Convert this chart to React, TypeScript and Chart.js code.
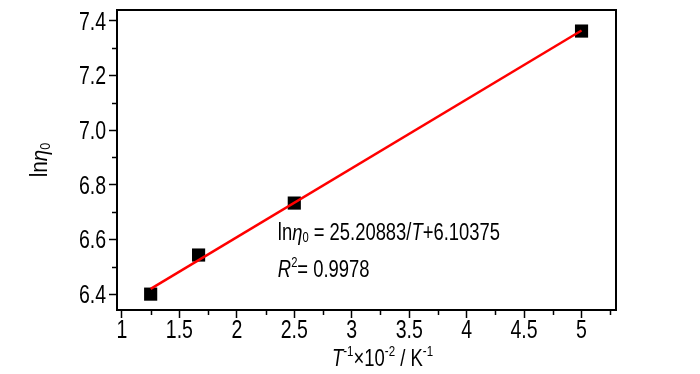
import React, { useEffect, useRef } from "react";
import { Chart, registerables } from "chart.js";

Chart.register(...registerables);

// ---- data ----
const invT = [1.25, 1.667, 2.5, 5.0];
const lnEta = [6.4, 6.543, 6.733, 7.362];
const fitX = [1.25, 5.0];
const fitY = [6.419, 7.364];
const xTicks = [1, 1.5, 2, 2.5, 3, 3.5, 4, 4.5, 5];
const xMinorTicks = [1.25, 1.75, 2.25, 2.75, 3.25, 3.75, 4.25, 4.75, 5.25];
const yTicks = [6.4, 6.6, 6.8, 7.0, 7.2, 7.4];
const yMinorTicks = [6.5, 6.7, 6.9, 7.1, 7.3];
const eqLine1 = [
  { t: "ln" },
  { t: "η", i: true },
  { t: "0", sub: true },
  { t: " = 25.20883/" },
  { t: "T", i: true },
  { t: "+6.10375" },
];
const eqLine2 = [{ t: "R", i: true }, { t: "2", sup: true }, { t: "= 0.9978" }];
const xTitle = [
  { t: "T", i: true },
  { t: "-1", sup: true },
  { t: "×10" },
  { t: "-2", sup: true },
  { t: " / K" },
  { t: "-1", sup: true },
];
const yTitle = [{ t: "ln" }, { t: "η", i: true }, { t: "0", sub: true }];

const FAMILY = '"Liberation Sans", Arial, sans-serif';

type Seg = { t: string; i?: boolean; sub?: boolean; sup?: boolean };

function segFont(s: Seg, size: number) {
  const sz = s.sub || s.sup ? Math.round(size * 0.62) : size;
  return `${s.i ? "italic " : ""}${sz}px ${FAMILY}`;
}

function measureSegs(ctx: CanvasRenderingContext2D, segs: Seg[], size: number) {
  let w = 0;
  for (const s of segs) {
    ctx.font = segFont(s, size);
    w += ctx.measureText(s.t).width;
  }
  return w;
}

// draws segments starting at (x,y) baseline, condensed horizontally by sx
function drawSegs(
  ctx: CanvasRenderingContext2D,
  segs: Seg[],
  x: number,
  y: number,
  size: number,
  sx = 1
) {
  ctx.save();
  ctx.translate(x, y);
  ctx.scale(sx, 1);
  let cx = 0;
  ctx.textBaseline = "alphabetic";
  ctx.textAlign = "left";
  for (const s of segs) {
    ctx.font = segFont(s, size);
    let dy = 0;
    if (s.sub) dy = size * 0.12;
    if (s.sup) dy = -size * 0.42;
    ctx.fillText(s.t, cx, dy);
    cx += ctx.measureText(s.t).width;
  }
  ctx.restore();
}

function drawLabel(
  ctx: CanvasRenderingContext2D,
  text: string,
  x: number,
  y: number,
  align: "right" | "center",
  size: number,
  sx: number
) {
  ctx.save();
  ctx.font = `${size}px ${FAMILY}`;
  ctx.textBaseline = "alphabetic";
  ctx.textAlign = align;
  ctx.translate(x, y);
  ctx.scale(sx, 1);
  ctx.fillText(text, 0, 0);
  ctx.restore();
}

const TICK_SIZE = 25;
const TICK_SX = 0.78;
const TEXT_SX = 0.8;

const decorPlugin = {
  id: "decor",
  afterDraw(chart: any) {
    const ctx: CanvasRenderingContext2D = chart.ctx;
    const { left, right, top, bottom } = chart.chartArea;
    const xs = chart.scales.x;
    const ys = chart.scales.y;
    ctx.save();
    ctx.strokeStyle = "#000";
    ctx.fillStyle = "#000";
    // minor ticks
    ctx.lineWidth = 1.5;
    ctx.beginPath();
    for (const v of xMinorTicks) {
      const px = Math.round(xs.getPixelForValue(v)) + 0.5;
      if (px < left || px > right) continue;
      ctx.moveTo(px, bottom);
      ctx.lineTo(px, bottom + 5);
    }
    for (const v of yMinorTicks) {
      const py = Math.round(ys.getPixelForValue(v)) + 0.5;
      ctx.moveTo(left, py);
      ctx.lineTo(left - 5, py);
    }
    ctx.stroke();
    // frame
    ctx.lineWidth = 2;
    ctx.strokeRect(left, top, right - left, bottom - top);
    // tick labels
    for (const t of xs.ticks) {
      drawLabel(ctx, String(t.value), xs.getPixelForValue(t.value), bottom + 28, "center", TICK_SIZE, TICK_SX);
    }
    for (const t of ys.ticks) {
      drawLabel(ctx, Number(t.value).toFixed(1), left - 11, ys.getPixelForValue(t.value) + 9, "right", TICK_SIZE, TICK_SX);
    }
    // equation text
    const ex = xs.getPixelForValue(2.357);
    drawSegs(ctx, eqLine1, ex, ys.getPixelForValue(6.599), 23, TEXT_SX);
    drawSegs(ctx, eqLine2, ex, ys.getPixelForValue(6.464), 23, TEXT_SX);
    // x title
    const wx = measureSegs(ctx, xTitle, 24) * 0.77;
    drawSegs(ctx, xTitle, (left + right) / 2 + 16 - wx / 2, 366, 24, 0.77);
    // y title
    const wy = measureSegs(ctx, yTitle, 23) * 0.9;
    ctx.translate(47, 160);
    ctx.rotate(-Math.PI / 2);
    drawSegs(ctx, yTitle, -wy / 2, 0, 23, 0.9);
    ctx.restore();
  },
};

export default function App() {
  const ref = useRef<HTMLCanvasElement | null>(null);
  useEffect(() => {
    if (!ref.current) return;
    const chart = new Chart(ref.current, {
      type: "scatter",
      data: {
        datasets: [
          {
            type: "line",
            data: fitX.map((x, k) => ({ x, y: fitY[k] })),
            borderColor: "#ff0000",
            borderWidth: 2.5,
            pointRadius: 0,
            fill: false,
          } as any,
          {
            data: invT.map((x, k) => ({ x, y: lnEta[k] })),
            pointStyle: "rect",
            pointRadius: 9.3,
            backgroundColor: "#000",
            borderColor: "#000",
            borderWidth: 0,
          },
        ],
      },
      options: {
        responsive: false,
        animation: false,
        layout: { padding: { left: 0, right: 84, top: 10, bottom: 0 } },
        plugins: { legend: { display: false }, tooltip: { enabled: false } },
        scales: {
          x: {
            type: "linear",
            min: 0.957,
            max: 5.3,
            afterFit: (s: any) => {
              s.height = 64;
            },
            afterBuildTicks: (s: any) => {
              s.ticks = xTicks.map((value) => ({ value }));
            },
            ticks: { display: false, autoSkip: false },
            grid: {
              drawOnChartArea: false,
              drawTicks: true,
              tickLength: 8,
              tickColor: "#000",
              tickWidth: 1.5,
            },
            border: { display: false },
          },
          y: {
            type: "linear",
            min: 6.342,
            max: 7.439,
            afterFit: (s: any) => {
              s.width = 117;
            },
            afterBuildTicks: (s: any) => {
              s.ticks = yTicks.map((value) => ({ value }));
            },
            ticks: { display: false, autoSkip: false },
            grid: {
              drawOnChartArea: false,
              drawTicks: true,
              tickLength: 8,
              tickColor: "#000",
              tickWidth: 1.5,
            },
            border: { display: false },
          },
        },
      },
      plugins: [decorPlugin],
    });
    return () => chart.destroy();
  }, []);
  return (
    <div style={{ position: "absolute", left: 0, top: 0, width: 700, height: 374, background: "#fff" }}>
      <canvas ref={ref} width={700} height={374} style={{ display: "block" }} />
    </div>
  );
}
